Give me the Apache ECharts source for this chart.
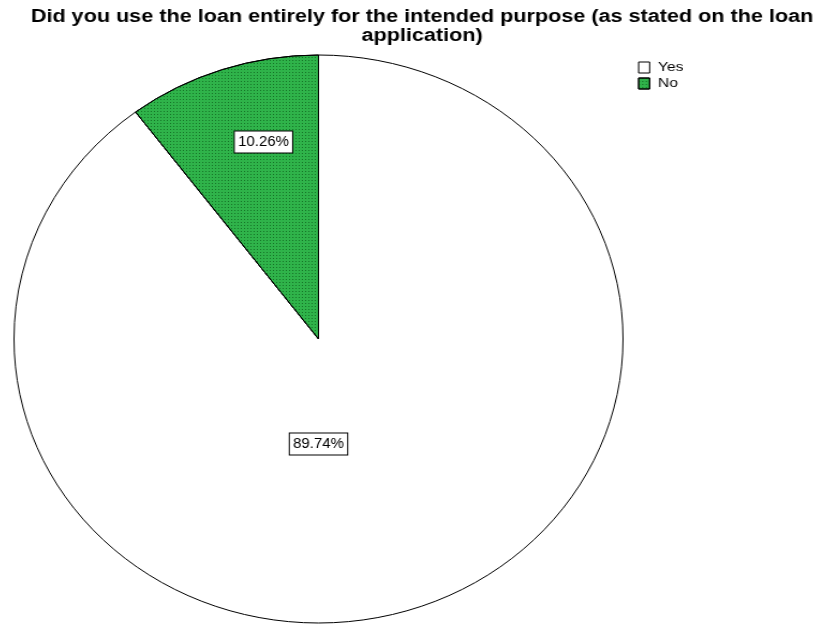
<!DOCTYPE html>
<html>
<head>
<meta charset="utf-8">
<script src="https://cdn.jsdelivr.net/npm/echarts@6/dist/echarts.min.js"></script>
<style>
  html, body { margin: 0; padding: 0; background: #fff; }
  #wrap { position: relative; width: 822px; height: 625px; overflow: hidden; }
  #pie, #overlay { position: absolute; left: 0; top: 0; width: 822px; height: 625px; }
  /* the pie is drawn as a circle and stretched horizontally into an ellipse */
  #pie { transform-origin: 318.5px 339px; transform: scaleX(1.0722); }
  /* title and legend use a wide, stretched face */
  #overlay { transform-origin: 0 0; transform: scaleX(1.2); }
</style>
</head>
<body>
<div id="wrap">
  <div id="pie"></div>
  <div id="overlay"></div>
</div>
<script>
// ---- data ----
const titleText = 'Did you use the loan entirely for the intended purpose (as stated on the loan\napplication)';
const categories = ['Yes', 'No'];
const percents = [89.74, 10.26];

// ---- layout ----
const CX = 318.5, CY = 339;       // ellipse centre
const R = 284;                     // pie radius before the horizontal stretch
const SX = 1.2;                    // stretch of the title/legend layer
const FONT = '"Liberation Sans", Arial, sans-serif';

const sliceStyles = [
  { color: '#ffffff', borderColor: '#000', borderWidth: 1 },
  {
    color: '#2fb34a', borderColor: '#000', borderWidth: 1,
    decal: { symbol: 'rect', symbolSize: 1, dashArrayX: [1, 2], dashArrayY: [1, 2], color: 'rgba(0,60,10,0.55)' }
  }
];

// label anchors: angle clockwise from 12 o'clock, fraction of radius
const labelSpots = [
  { angle: 180, frac: 0.37 },
  { angle: 345.4, frac: 0.717 }
];

const pieChart = echarts.init(document.getElementById('pie'), null, { renderer: 'canvas' });
pieChart.setOption({
  animation: false,
  series: [{
    type: 'pie',
    center: [CX, CY],
    radius: R,
    startAngle: 90,
    clockwise: true,
    silent: true,
    emphasis: { disabled: true },
    labelLine: { show: false },
    label: {
      show: true,
      position: 'inside',
      formatter: p => p.value.toFixed(2) + '%',
      fontFamily: FONT,
      fontSize: 14,
      color: '#000',
      backgroundColor: '#fff',
      borderColor: '#000',
      borderWidth: 1,
      padding: [4, 3, 3, 3]
    },
    labelLayout: function (params) {
      const s = labelSpots[params.dataIndex];
      const a = s.angle * Math.PI / 180;
      return {
        x: CX + R * s.frac * Math.sin(a),
        y: CY - R * s.frac * Math.cos(a),
        align: 'center',
        verticalAlign: 'middle'
      };
    },
    data: categories.map((c, i) => ({ name: c, value: percents[i], itemStyle: sliceStyles[i] }))
  }]
});

const overlay = echarts.init(document.getElementById('overlay'), null, { renderer: 'canvas' });
overlay.setOption({
  animation: false,
  title: {
    text: titleText,
    left: 422 / SX,
    top: 8,
    padding: 0,
    textAlign: 'center',
    textStyle: { fontFamily: FONT, fontWeight: 'bold', fontSize: 18, lineHeight: 19, color: '#000' }
  },
  legend: {
    orient: 'vertical',
    left: 638 / SX,
    top: 61,
    padding: 0,
    itemWidth: 11 / SX,
    itemHeight: 11,
    itemGap: 3,
    icon: 'rect',
    selectedMode: false,
    textStyle: { fontFamily: FONT, fontSize: 13, color: '#000', padding: [0, 0, 0, 2] },
    data: categories.map((c, i) => ({ name: c, itemStyle: sliceStyles[i] }))
  },
  // invisible series that feeds the legend
  series: [{
    type: 'pie',
    radius: 0,
    silent: true,
    label: { show: false },
    labelLine: { show: false },
    data: categories.map((c, i) => ({ name: c, value: percents[i], itemStyle: sliceStyles[i] }))
  }]
});
</script>
</body>
</html>
